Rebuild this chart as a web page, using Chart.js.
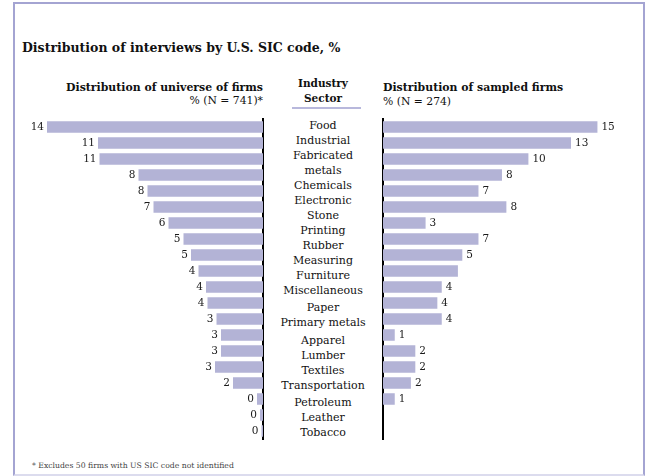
<!DOCTYPE html>
<html>
<head>
<meta charset="utf-8">
<script src="https://cdn.jsdelivr.net/npm/chart.js@4.4.1/dist/chart.umd.min.js"></script>
<style>
  body { margin: 0; width: 649px; height: 476px; position: relative; overflow: hidden; background: #fff;
         font-family: "DejaVu Serif", serif; color: #111; }
  .frame { position: absolute; left: 13px; top: 2px; width: 628px; height: 470px;
           border: 2px solid #a4a4d2; border-bottom-color: #dcdcee; }
  canvas { position: absolute; left: 0; top: 0; }
  .txt { position: absolute; white-space: nowrap; line-height: 14px; }
  .title { left: 22px; top: 41px; font-weight: bold; font-size: 12.5px; }
  .hdr { font-weight: bold; font-size: 10.9px; }
  .sub { font-size: 10.8px; }
  .mid { position: absolute; left: 263px; width: 120px; text-align: center; font-size: 11px; }
  .mid div { line-height: 15px; height: 15px; }
  .rule { position: absolute; left: 292px; top: 107px; width: 69px; height: 2px; background: #b8b8dc; }
  .foot { left: 32px; top: 459px; font-size: 7.7px; color: #444; }
</style>
</head>
<body>
<div class="frame"></div>
<div class="txt title">Distribution of interviews by U.S. SIC code, %</div>

<div class="txt hdr" style="right:386px; top:81px;">Distribution of universe of firms</div>
<div class="txt sub" style="right:386px; top:94px;">% (N = 741)*</div>

<div class="mid hdr" style="top:76px; line-height:15px; font-size:10.5px;">Industry<br>Sector</div>
<div class="rule"></div>

<div class="txt hdr" style="left:383px; top:81px;">Distribution of sampled firms</div>
<div class="txt sub" style="left:383px; top:95px;">% (N = 274)</div>

<div class="mid" id="sectorList" style="top:118px;"></div>

<div class="txt foot">* Excludes 50 firms with US SIC code not identified</div>

<canvas id="universeChart" width="649" height="476"></canvas>
<canvas id="sampledChart" width="649" height="476"></canvas>

<script>
// industry sectors, top to bottom
const sectors = [
  "Food", "Industrial", ["Fabricated", "metals"], "Chemicals", "Electronic",
  "Stone", "Printing", "Rubber", "Measuring", "Furniture",
  "Miscellaneous", "Paper", "Primary metals", "Apparel", "Lumber",
  "Textiles", "Transportation", "Petroleum", "Leather", "Tobacco"
];

// % of the universe of firms (N = 741)
const universeShare = [
  14.4, 11.0, 10.9, 8.3, 7.7,
  7.3, 6.3, 5.3, 4.8, 4.3,
  3.8, 3.7, 3.1, 2.8, 2.8,
  3.2, 2.0, 0.4, 0.2, 0.1
];

// % of the sampled firms (N = 274)
const sampledShare = [
  14.6, 12.8, 9.9, 8.1, 6.5,
  8.4, 2.9, 6.5, 5.4, 5.1,
  4.0, 3.7, 4.0, 0.8, 2.2,
  2.2, 1.9, 0.8, 0, 0
];

// sampled bars that carry no value label
const sampledUnlabelled = ["Furniture"];

const barColor = "#b3b3d6";

// middle column of sector names
const gapBefore = { "Paper": 2, "Apparel": 3, "Petroleum": 2 };
const list = document.getElementById("sectorList");
sectors.forEach(function (s) {
  const lines = Array.isArray(s) ? s : [s];
  lines.forEach(function (line, k) {
    const d = document.createElement("div");
    d.textContent = line;
    if (k === 0 && gapBefore[line]) d.style.marginTop = gapBefore[line] + "px";
    list.appendChild(d);
  });
});

function sectorName(i) {
  return Array.isArray(sectors[i]) ? sectors[i].join(" ") : sectors[i];
}

// prints the rounded value beside the end of each bar
function valueLabels(side, skip) {
  return {
    id: "valueLabels",
    afterDatasetsDraw(chart) {
      const ctx = chart.ctx;
      const values = chart.data.datasets[0].data;
      ctx.save();
      ctx.font = '10.5px "DejaVu Serif"';
      ctx.fillStyle = "#1a1a1a";
      ctx.textBaseline = "middle";
      ctx.textAlign = side === "left" ? "right" : "left";
      chart.getDatasetMeta(0).data.forEach(function (bar, i) {
        if (skip(i, values[i])) return;
        const x = side === "left" ? bar.x - 3 : bar.x + 4;
        ctx.fillText(String(Math.round(values[i])), x, bar.y + 0.5);
      });
      ctx.restore();
    }
  };
}

function makeConfig(values, side, padding, skip) {
  return {
    type: "bar",
    data: {
      labels: sectors.map(function (s, i) { return sectorName(i); }),
      datasets: [{
        data: values,
        backgroundColor: barColor,
        borderWidth: 0,
        barPercentage: 0.72,
        categoryPercentage: 1
      }]
    },
    options: {
      indexAxis: "y",
      responsive: false,
      animation: false,
      events: [],
      layout: { padding: padding },
      plugins: { legend: { display: false }, tooltip: { enabled: false } },
      scales: {
        x: { display: false, reverse: side === "left", min: 0, max: 16 },
        y: {
          position: side === "left" ? "right" : "left",
          grid: { display: false, drawTicks: false },
          ticks: { display: false },
          border: { display: true, color: "#000", width: 2 }
        }
      }
    },
    plugins: [valueLabels(side, skip)]
  };
}

new Chart(document.getElementById("universeChart"),
  makeConfig(universeShare, "left",
    { left: 23, right: 649 - 263, top: 119, bottom: 476 - 439 },
    function () { return false; }));

new Chart(document.getElementById("sampledChart"),
  makeConfig(sampledShare, "right",
    { left: 383, right: 649 - 618, top: 119, bottom: 476 - 439 },
    function (i, v) { return v === 0 || sampledUnlabelled.indexOf(sectorName(i)) >= 0; }));
</script>
</body>
</html>
